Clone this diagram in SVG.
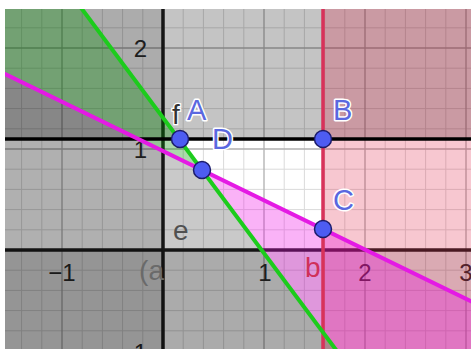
<svg xmlns="http://www.w3.org/2000/svg" width="471" height="349" viewBox="0 0 471 349">
<defs>
<clipPath id="plot"><rect x="5" y="9" width="466" height="340"/></clipPath>
<style>
.minor{stroke:#dadada;stroke-width:1;fill:none}
.major{stroke:#b0b0b0;stroke-width:1.3;fill:none}
.num{font-family:"Liberation Sans",Arial,sans-serif;font-size:24px;fill:#2e2e2e}
.lbl{font-family:"Liberation Sans",Arial,sans-serif;font-size:29px;fill:#5a68e0;stroke:#ffffff;stroke-width:3;paint-order:stroke;stroke-linejoin:round}
.tag{font-family:"Liberation Sans",Arial,sans-serif;font-size:28px}
.pt{fill:#4d5cf2;stroke:#1c1c6a;stroke-width:1.5}
</style>
</defs>
<rect width="471" height="349" fill="#ffffff"/>
<g clip-path="url(#plot)">
<g id="grid">
<path class="minor" d="M21.6 0V349M41.8 0V349M82.2 0V349M102.4 0V349M122.6 0V349M142.8 0V349M183.2 0V349M203.4 0V349M223.6 0V349M243.8 0V349M284.2 0V349M304.4 0V349M324.6 0V349M344.8 0V349M385.2 0V349M405.4 0V349M425.6 0V349M445.8 0V349M0 330.8H471M0 310.6H471M0 290.4H471M0 270.2H471M0 229.8H471M0 209.6H471M0 189.4H471M0 169.2H471M0 128.8H471M0 108.6H471M0 88.4H471M0 68.2H471M0 27.8H471"/>
<path class="major" d="M62 0V349M264 0V349M365 0V349M466 0V349M0 149H471M0 48H471"/>
</g>
<g id="axis-numbers">
<text class="num" x="147" y="57" text-anchor="end">2</text>
<text class="num" x="147" y="158" text-anchor="end">1</text>
<text class="num" x="147" y="361" text-anchor="end">−1</text>
<text class="num" x="62" y="281" text-anchor="middle">−1</text>
<text class="num" x="265" y="281" text-anchor="middle">1</text>
<text class="num" x="365" y="281" text-anchor="middle">2</text>
<text class="num" x="466" y="281" text-anchor="middle">3</text>
</g>
<g id="axes">
<line x1="0" y1="250" x2="471" y2="250" stroke="#1e1e1e" stroke-width="3.5"/>
<line x1="163" y1="0" x2="163" y2="349" stroke="#1e1e1e" stroke-width="3.5"/>
</g>
<g id="regions">
<rect x="-10" y="-10" width="173" height="370" fill="#000" fill-opacity="0.12"/>
<rect x="-10" y="250" width="500" height="110" fill="#000" fill-opacity="0.15"/>
<rect x="-10" y="-10" width="500" height="149" fill="#000" fill-opacity="0.23"/>
<rect x="323" y="-10" width="160" height="370" fill="#dc143c" fill-opacity="0.24"/>
<polygon points="-10,-10 67.8,-10 202,170 -10,66.6" fill="#008c00" fill-opacity="0.33"/>
<polygon points="202,170 480,305.6 480,360 343.6,360" fill="#f000e6" fill-opacity="0.3"/>
<polygon points="-10,66.6 202,170 343.6,360 -10,360" fill="#000" fill-opacity="0.21"/>
</g>
<g id="connectors">
<line id="f" x1="-10" y1="139" x2="480" y2="139" stroke="#000" stroke-width="3.5"/>
<line id="b" x1="323" y1="-10" x2="323" y2="360" stroke="#d8325a" stroke-width="3.5"/>
<line id="magenta" x1="-10" y1="66.6" x2="480" y2="305.6" stroke="#e41ae4" stroke-width="4"/>
<line id="green" x1="67.8" y1="-10" x2="343.6" y2="360" stroke="#1ccc1c" stroke-width="4"/>
</g>
<g id="line-labels">
<text class="tag" x="172" y="124" font-size="26" fill="#333" stroke="#fff" stroke-width="2.5" paint-order="stroke">f</text>
<text class="tag" x="173" y="240" fill="#505050">e</text>
<text class="tag" x="164" y="280" text-anchor="end" fill="#6a6a6a">(a</text>
<text class="tag" x="305" y="277" font-size="29" fill="#d0305a">b</text>
</g>
<g id="A"><circle class="pt" cx="180" cy="139" r="8.5"/><text class="lbl" x="187" y="120">A</text></g>
<g id="B"><circle class="pt" cx="323" cy="139" r="8.5"/><text class="lbl" x="333" y="120">B</text></g>
<g id="C"><circle class="pt" cx="323" cy="229" r="8.5"/><text class="lbl" x="333" y="210">C</text></g>
<g id="D"><circle class="pt" cx="202" cy="170" r="8.5"/><text class="lbl" x="212" y="149">D</text></g>
</g>
</svg>
